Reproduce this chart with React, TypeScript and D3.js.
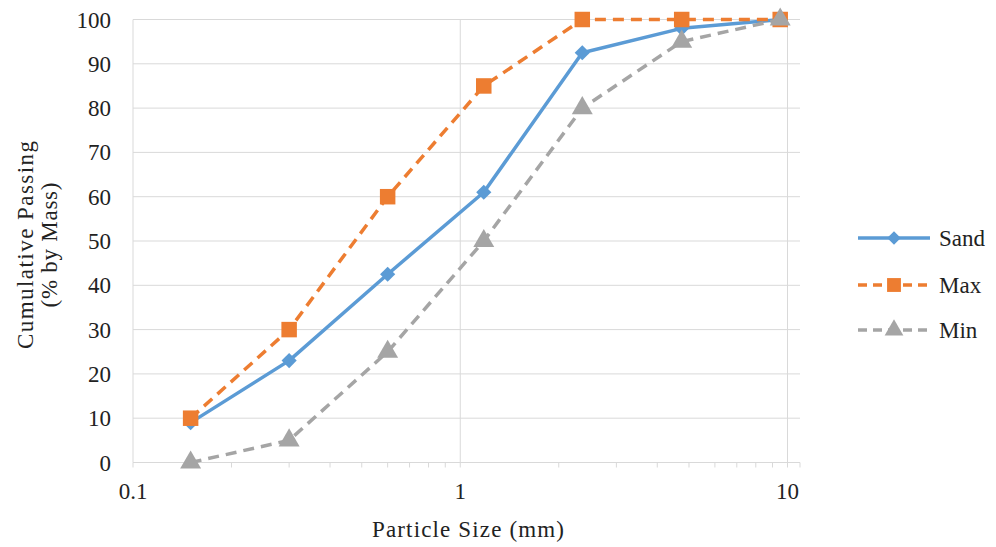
import React, { useEffect, useRef } from 'react';
import * as d3 from 'd3';

const sieveSizes = [0.15, 0.3, 0.6, 1.18, 2.36, 4.75, 9.5];
const sandValues = [9, 23, 42.5, 61, 92.5, 98, 100];
const maxValues = [10, 30, 60, 85, 100, 100, 100];
const minValues = [0, 5, 25, 50, 80, 95, 100];
const yTicks = [0, 10, 20, 30, 40, 50, 60, 70, 80, 90, 100];
const xTickLabels = [0.1, 1, 10];
const seriesNames = ['Sand', 'Max', 'Min'];

const FONT = 'Liberation Serif, Tinos, DejaVu Serif, serif';

export default function App() {
  const ref = useRef<SVGSVGElement | null>(null);

  useEffect(() => {
    if (!ref.current) return;
    const svg = d3.select(ref.current);
    svg.selectAll('*').remove();

    const left = 133, right = 800, top = 19.5, bottom = 462.5;
    // Excel plot area runs a little beyond 10
    const x = d3.scaleLog().domain([0.1, 10]).range([left, 787.5]);
    const y = d3.scaleLinear().domain([0, 100]).range([bottom, top]);

    const root = svg.append('g')
      .style('font-family', FONT)
      .style('font-size', '23px')
      .attr('fill', '#222');

    const grid = root.append('g');
    yTicks.forEach(t => {
      grid.append('line')
        .attr('x1', left).attr('x2', right)
        .attr('y1', y(t)).attr('y2', y(t))
        .attr('stroke', '#d9d9d9').attr('stroke-width', 1);
    });
    xTickLabels.forEach(t => {
      grid.append('line')
        .attr('x1', x(t)).attr('x2', x(t))
        .attr('y1', top).attr('y2', bottom)
        .attr('stroke', '#d9d9d9').attr('stroke-width', 1);
    });

    // minor ticks on the x axis
    const minor: number[] = [];
    [0.1, 1].forEach(dec => {
      for (let k = 2; k <= 9; k++) minor.push(dec * k);
    });
    const tickPos = [...minor.map(t => x(t)), ...xTickLabels.map(t => x(t)), right];
    tickPos.forEach(px => {
      grid.append('line')
        .attr('x1', px).attr('x2', px)
        .attr('y1', bottom).attr('y2', bottom + 5)
        .attr('stroke', '#d9d9d9');
    });

    // y labels
    root.append('g').selectAll('text').data(yTicks).enter().append('text')
      .attr('x', 111).attr('y', d => y(d)).attr('dy', '0.35em')
      .attr('text-anchor', 'end')
      .text(d => d);

    // x labels
    root.append('g').selectAll('text').data(xTickLabels).enter().append('text')
      .attr('x', d => x(d)).attr('y', 499)
      .attr('text-anchor', 'middle')
      .text(d => d);

    root.append('text')
      .attr('x', 468).attr('y', 537)
      .attr('text-anchor', 'middle')
      .attr('textLength', 192)
      .text('Particle Size (mm)');

    const yt = root.append('text')
      .attr('transform', 'translate(0,245) rotate(-90)')
      .attr('text-anchor', 'middle');
    yt.append('tspan').attr('x', 0).attr('y', 33).attr('textLength', 208).text('Cumulative Passing');
    yt.append('tspan').attr('x', 0).attr('y', 57).attr('textLength', 125).text('(% by Mass)');

    const colors = ['#5b9bd5', '#ed7d31', '#a5a5a5'];
    const dashes = [null, '11,7', '11,7'];
    const symbols = [d3.symbolSquare, d3.symbolSquare, d3.symbolTriangle];
    const rotations = [45, 0, 0];
    const sizes = [115, 240, 190];
    const allValues = [sandValues, maxValues, minValues];

    const line = d3.line<number>()
      .x((_, i) => x(sieveSizes[i]))
      .y(d => y(d));

    allValues.forEach((vals, s) => {
      const g = root.append('g');
      g.append('path')
        .attr('d', line(vals))
        .attr('fill', 'none')
        .attr('stroke', colors[s])
        .attr('stroke-width', 3.5)
        .attr('stroke-linejoin', 'round')
        .attr('stroke-dasharray', dashes[s]);
      g.selectAll('path.m').data(vals).enter().append('path')
        .attr('class', 'm')
        .attr('d', d3.symbol().type(symbols[s]).size(sizes[s]))
        .attr('transform', (d, i) => `translate(${x(sieveSizes[i])},${y(d)}) rotate(${rotations[s]})`)
        .attr('fill', colors[s]);
    });

    // legend
    const legendY = [238, 285, 330];
    seriesNames.forEach((name, s) => {
      const g = root.append('g').attr('transform', `translate(858,${legendY[s]})`);
      g.append('line')
        .attr('x1', 0).attr('x2', 72)
        .attr('stroke', colors[s]).attr('stroke-width', 3.5)
        .attr('stroke-dasharray', dashes[s] ? '9,6' : null);
      g.append('path')
        .attr('d', d3.symbol().type(symbols[s]).size(sizes[s] * 0.8))
        .attr('transform', `translate(36,0) rotate(${rotations[s]})`)
        .attr('fill', colors[s]);
      g.append('text')
        .attr('x', 81).attr('dy', '0.35em')
        .text(name);
    });
  }, []);

  return (
    <svg ref={ref} width={996} height={547}
      style={{ position: 'absolute', left: 0, top: 0, background: '#fff' }} />
  );
}
